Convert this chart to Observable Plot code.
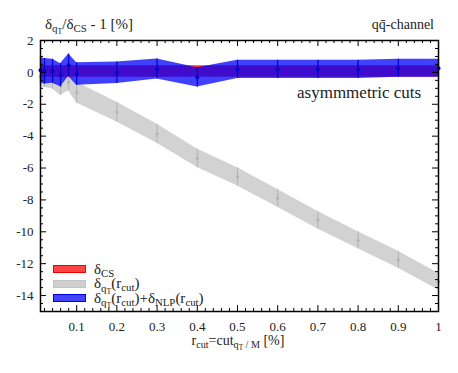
<!DOCTYPE html>
<html><head><meta charset="utf-8">
<script src="https://cdn.jsdelivr.net/npm/d3@7"></script>
<script src="https://cdn.jsdelivr.net/npm/@observablehq/plot@0.6"></script>
<style>
body{margin:0;background:#fff;}
#wrap{position:relative;width:458px;height:373px;font-family:'Liberation Serif','Times New Roman','DejaVu Serif',serif;color:#222;overflow:hidden;}
#wrap svg{position:absolute;left:0;top:0;}
#wrap svg text{font-family:'Liberation Serif','Times New Roman','DejaVu Serif',serif;}
.ov{position:absolute;white-space:nowrap;line-height:1;}
sub{font-size:72%;vertical-align:-0.32em;line-height:0;}
.leg{position:absolute;left:53px;top:262px;font-size:15px;}
.row{display:flex;align-items:center;height:14.6px;}
.sw{width:33px;height:8px;margin-right:8px;box-sizing:border-box;border:1px solid;}
</style></head><body>
<div id="wrap"></div>
<script>
// r_cut values [%]
const rcut = [0.01,0.02,0.04,0.06,0.08,0.1,0.2,0.3,0.4,0.5,0.6,0.7,0.8,0.9,1.0];
// delta_qT(rcut)+delta_NLP(rcut): central values and errors
const nlpCentral = [0.13,0.07,0.07,-0.18,0.45,-0.1,-0.02,0.21,-0.31,0.19,0.19,0.19,0.19,0.26,0.26];
const nlpErr = [0.8,0.8,0.75,0.72,0.71,0.7,0.67,0.63,0.6,0.57,0.57,0.57,0.57,0.57,0.57];
// delta_qT(rcut): central values and errors
const qtCentral = [-0.25,-0.35,-0.45,-0.85,-0.6,-1.27,-2.49,-3.85,-5.39,-6.56,-7.9,-9.28,-10.53,-11.75,-13.13];
const qtErr = [0.6,0.6,0.6,0.6,0.57,0.65,0.62,0.6,0.58,0.57,0.56,0.55,0.54,0.53,0.52];
// delta_CS band
const csLow = [-0.3,-0.3,-0.3,-0.3,-0.3,-0.3,-0.3,-0.3,-0.3,-0.3,-0.3,-0.3,-0.3,-0.3,-0.3];
const csHigh = [0.42,0.42,0.42,0.42,0.42,0.42,0.42,0.42,0.42,0.42,0.42,0.42,0.42,0.42,0.42];
// ticks
const xMajor = [0.1,0.2,0.3,0.4,0.5,0.6,0.7,0.8,0.9,1];
const xMinor = d3.range(1,50).map(i => i*0.02).filter(v => Math.abs(v*10 - Math.round(v*10)) > 1e-6);
const yMajor = [2,0,-2,-4,-6,-8,-10,-12,-14];
const yMinor = d3.range(-15, 2.01, 0.5).filter(v => Math.abs(v/2 - Math.round(v/2)) > 1e-6);

const data = rcut.map((r,i) => ({
  r,
  q: qtCentral[i], qlo: qtCentral[i]-qtErr[i], qhi: qtCentral[i]+qtErr[i],
  n: nlpCentral[i], nlo: nlpCentral[i]-nlpErr[i], nhi: nlpCentral[i]+nlpErr[i],
  clo: csLow[i], chi: csHigh[i]
}));

const W = 458, H = 373, ML = 40, MR = 20, MT = 40, MB = 62;
const FW = W-ML-MR, FH = H-MT-MB;
const big = 6, small = 3;

const plot = Plot.plot({
  width: W, height: H,
  marginLeft: ML, marginRight: MR, marginTop: MT, marginBottom: MB,
  style: {fontFamily: "'Liberation Serif','Times New Roman',serif", fontSize: "13px", color: "#222", background: "white"},
  x: {domain: [0.01, 1]},
  y: {domain: [-15, 2]},
  marks: [
    Plot.areaY(data, {x: "r", y1: "qlo", y2: "qhi", fill: "#d2d2d2"}),
    Plot.ruleX(data, {x: "r", y1: "qlo", y2: "qhi", stroke: "#b4b4b4", strokeWidth: 1}),
    Plot.dot(data, {x: "r", y: "q", r: 1.6, fill: "#b4b4b4", stroke: "none"}),
    Plot.areaY(data, {x: "r", y1: "clo", y2: "chi", fill: "#ff3333"}),
    Plot.areaY(data, {x: "r", y1: "nlo", y2: "nhi", fill: "#0000ff", fillOpacity: 0.75}),
    Plot.ruleX(data, {x: "r", y1: "nlo", y2: "nhi", stroke: "#0000cc", strokeWidth: 1.2}),
    Plot.dot(data, {x: "r", y: "n", r: 2, fill: "#0000cc", stroke: "none"}),
    // ticks (inward)
    Plot.tickY(yMajor, {y: d => d, insetRight: FW-big, stroke: "#000"}),
    Plot.tickY(yMajor, {y: d => d, insetLeft: FW-big, stroke: "#000"}),
    Plot.tickY(yMinor, {y: d => d, insetRight: FW-small, stroke: "#000"}),
    Plot.tickY(yMinor, {y: d => d, insetLeft: FW-small, stroke: "#000"}),
    Plot.tickX(xMajor, {x: d => d, insetTop: FH-big, stroke: "#000"}),
    Plot.tickX(xMajor, {x: d => d, insetBottom: FH-big, stroke: "#000"}),
    Plot.tickX(xMinor, {x: d => d, insetTop: FH-small, stroke: "#000"}),
    Plot.tickX(xMinor, {x: d => d, insetBottom: FH-small, stroke: "#000"}),
    Plot.frame({stroke: "#000", strokeWidth: 1.5}),
    Plot.axisY(yMajor, {anchor: "left", tickSize: 0, tickPadding: 7, label: null, tickFormat: d => String(d)}),
    Plot.axisX(xMajor, {anchor: "bottom", tickSize: 0, tickPadding: 10, label: null, tickFormat: d => String(d)})
  ]
});

const wrap = document.getElementById("wrap");
wrap.appendChild(plot);

const add = (html, style, cls="ov") => {
  const d = document.createElement("div");
  d.className = cls;
  d.innerHTML = html;
  Object.assign(d.style, style);
  wrap.appendChild(d);
  return d;
};
add("δ<sub>q<sub>T</sub></sub>/δ<sub>CS</sub> - 1 [%]", {left: "45px", top: "17px", fontSize: "15px"});
add("qq&#772;-channel", {right: "24px", top: "18px", fontSize: "14px"});
add("asymmmetric cuts", {left: "297px", top: "84px", fontSize: "17px"});
add("r<sub>cut</sub>=cut<sub>q<sub>T</sub> / M</sub> [%]", {left: "238px", top: "334px", fontSize: "14px", transform: "translateX(-50%)"});

add(`<div class="row"><div class="sw" style="background:#ff4444;border-color:#ee0000"></div><span>δ<sub>CS</sub></span></div>
<div class="row"><div class="sw" style="background:#d0d0d0;border-color:#c4c4c4"></div><span>δ<sub>q<sub>T</sub></sub>(r<sub>cut</sub>)</span></div>
<div class="row"><div class="sw" style="background:#4444ff;border-color:#0000ee"></div><span>δ<sub>q<sub>T</sub></sub>(r<sub>cut</sub>)+δ<sub>NLP</sub>(r<sub>cut</sub>)</span></div>`, {}, "leg");
</script>
</body></html>
